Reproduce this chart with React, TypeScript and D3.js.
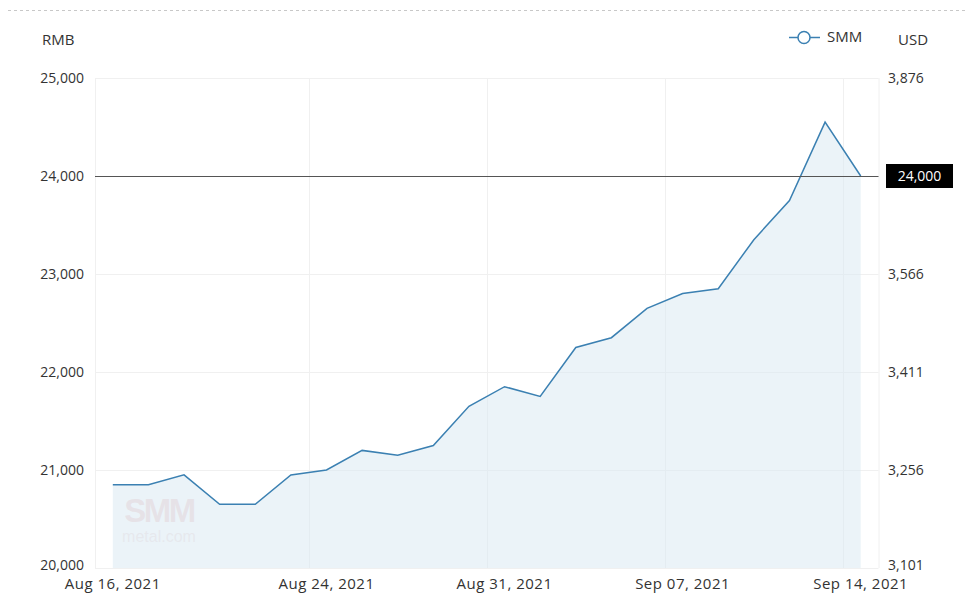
import React from "react";
import * as d3 from "d3";

const dates = [
  "2021-08-16","2021-08-17","2021-08-18","2021-08-19","2021-08-20",
  "2021-08-23","2021-08-24","2021-08-25","2021-08-26","2021-08-27",
  "2021-08-30","2021-08-31","2021-09-01","2021-09-02","2021-09-03",
  "2021-09-06","2021-09-07","2021-09-08","2021-09-09","2021-09-10",
  "2021-09-13","2021-09-14",
];
const prices = [
  20850, 20850, 20950, 20650, 20650,
  20950, 21000, 21200, 21150, 21250,
  21650, 21850, 21750, 22250, 22350,
  22650, 22800, 22850, 23350, 23750,
  24550, 24000,
];
const labelDates = ["2021-08-16","2021-08-24","2021-08-31","2021-09-07","2021-09-14"];
const leftTicks = [20000, 21000, 22000, 23000, 24000, 25000];
const rightTickLabels = ["3,101", "3,256", "3,411", "3,566", "3,721", "3,876"];
const markValue = 24000;
const seriesName = "SMM";

const W = 968, H = 601;
const L = 95, R = 878.5, T = 78, B = 568;
const FONT = "'Open Sans', 'Noto Sans', sans-serif";

export default function App() {
  const x = d3.scaleBand<string>().domain(dates).range([L, R]).padding(0);
  const bw = x.bandwidth();
  const cx = (d: string) => (x(d) as number) + bw / 2;
  const y = d3.scaleLinear().domain([20000, 25000]).range([B, T]);
  const data = dates.map((d, i) => ({ d, v: prices[i] }));
  const line = d3.line<any>().x((p) => cx(p.d)).y((p) => y(p.v));
  const area = d3.area<any>().x((p) => cx(p.d)).y0(B).y1((p) => y(p.v));
  const fmt = d3.format(",");
  const fmtDate = (s: string) => d3.timeFormat("%b %d, %Y")(d3.timeParse("%Y-%m-%d")(s) as Date);
  const grid = "#f0f0f0";
  const txt = "#333";
  const lineColor = "#3b80b2";
  const ly = (t: number) => Math.min(y(t), B - 2.5);

  return (
    <svg width={W} height={H} style={{ position: "absolute", left: 0, top: 0, fontFamily: FONT }}>
      <rect width={W} height={H} fill="#fff" />
      <line x1={8} x2={W} y1={10.5} y2={10.5} stroke="#c8c8c8" strokeDasharray="3,3" />
      {/* grid */}
      {leftTicks.map((t) => (
        <line key={t} x1={L} x2={R} y1={Math.round(y(t)) + 0.5} y2={Math.round(y(t)) + 0.5} stroke={grid} />
      ))}
      {labelDates.slice(1).map((d) => (
        <line key={d} x1={Math.round(x(d) as number) + 0.5} x2={Math.round(x(d) as number) + 0.5} y1={T} y2={B} stroke={grid} />
      ))}
      <line x1={L + 0.5} x2={L + 0.5} y1={T} y2={B} stroke={grid} />
      <line x1={R + 0.5} x2={R + 0.5} y1={T} y2={B} stroke={grid} />
      {/* watermark */}
      <g fontFamily="Arial, 'Liberation Sans', sans-serif">
        <text x={159} y={522} textAnchor="middle" fontSize={33} fontWeight="bold" fill="#ecc0c0" fillOpacity={0.6} letterSpacing={-2.5}>SMM</text>
        <text x={159} y={542} textAnchor="middle" fontSize={16} fill="#ecd6d6" fillOpacity={0.6}>metal.com</text>
      </g>
      <path d={area(data) as string} fill="#dbe9f2" fillOpacity={0.55} />
      <path d={line(data) as string} fill="none" stroke={lineColor} strokeWidth={1.5} />
      <line x1={L} x2={R} y1={Math.round(y(markValue)) + 0.5} y2={Math.round(y(markValue)) + 0.5} stroke="#555" strokeWidth={1} />
      {/* left axis */}
      {leftTicks.map((t) => (
        <text key={t} x={84} y={ly(t)} dy="0.35em" textAnchor="end" fontSize={14} fill={txt}>{fmt(t)}</text>
      ))}
      {/* right axis */}
      {leftTicks.map((t, i) => (
        t === markValue ? null :
        <text key={t} x={888} y={ly(t)} dy="0.35em" textAnchor="start" fontSize={14} fill={txt}>{rightTickLabels[i]}</text>
      ))}
      <rect x={886} y={y(markValue) - 12} width={67} height={24} fill="#000" />
      <text x={919.5} y={y(markValue)} dy="0.35em" textAnchor="middle" fontSize={14} fill="#fff">{fmt(markValue)}</text>
      {/* x axis */}
      {labelDates.map((d) => (
        <text key={d} x={cx(d)} y={584} dy="0.35em" textAnchor="middle" fontSize={15} letterSpacing={0.5} fill={txt}>{fmtDate(d)}</text>
      ))}
      {/* titles */}
      <text x={42} y={40} dy="0.35em" fontSize={15} fill={txt}>RMB</text>
      <text x={898} y={40} dy="0.35em" fontSize={15} fill={txt}>USD</text>
      {/* legend */}
      <line x1={789} x2={820} y1={37.5} y2={37.5} stroke={lineColor} strokeWidth={1.5} />
      <circle cx={804} cy={37.5} r={6} fill="#fff" stroke={lineColor} strokeWidth={1.5} />
      <text x={827} y={37} dy="0.35em" fontSize={15} fill={txt}>{seriesName}</text>
    </svg>
  );
}
